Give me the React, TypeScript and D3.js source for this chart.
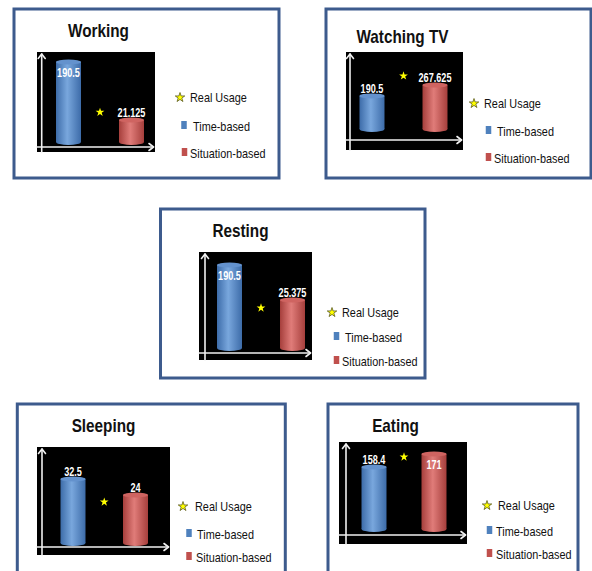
import React from "react";
import * as d3 from "d3";

const panelTitles = ["Working", "Watching TV", "Resting", "Sleeping", "Eating"];
const timeBasedValues = [190.5, 190.5, 190.5, 32.5, 158.4];
const situationBasedValues = [21.125, 267.625, 25.375, 24, 171];
// apparent heights on each panel's own (unlabelled) axis: 0 = baseline, 100 = top of plot
const timeBasedLevels = [89, 43, 86.5, 66.7, 71.3];
const situationBasedLevels = [24.4, 57, 50, 50, 86.2];
const realUsageLevels = [33, 69, 41.7, 42.7, 82.8];
const legendLabels = ["Real Usage", "Time-based", "Situation-based"];
const seriesKeys = ["time", "real", "situation"];

type Layout = {
  box: [number, number, number, number];
  plot: [number, number, number, number];
  axisX: number;
  axisY: number;
  base: number;
  xs: [number, number];
  title: [number, number];
  inside: [boolean, boolean];
  mx: number[];
  tx: number[];
  ty: number[];
};

const layouts: Layout[] = [
  { box: [14, 9, 265, 169], plot: [37, 52, 155, 152], axisX: 41.7, axisY: 147, base: 142, xs: [68.5, 131.5], title: [98.5, 37], inside: [true, false], mx: [180, 184, 184.5], tx: [190, 193, 190], ty: [97, 126, 153] },
  { box: [326, 9, 265, 169], plot: [346, 52, 463, 150], axisX: 350, axisY: 140, base: 129, xs: [372, 435], title: [402.5, 43], inside: [false, false], mx: [474, 488.5, 488.5], tx: [484, 497, 494], ty: [103, 131, 158] },
  { box: [160.5, 209, 264.5, 169], plot: [199, 252, 312, 360], axisX: 205, axisY: 353, base: 348, xs: [229.5, 292.5], title: [240.5, 237], inside: [true, false], mx: [332, 336.5, 336.5], tx: [342, 345, 342], ty: [312, 337, 361] },
  { box: [17.3, 404, 268, 190], plot: [37, 447, 170, 555], axisX: 42, axisY: 547, base: 543, xs: [73, 135.5], title: [103.5, 432], inside: [false, false], mx: [183, 189, 189], tx: [195, 197, 196], ty: [506, 534, 557] },
  { box: [328, 404, 250, 190], plot: [339, 442, 467, 544], axisX: 346, axisY: 535, base: 529, xs: [374, 434], title: [395.5, 432], inside: [false, true], mx: [487, 489.5, 489.5], tx: [498, 496, 496], ty: [505, 531, 554] },
];

const BLUE = { edge: "#3d6ca9", mid: "#79a7dd", top: "#6492cd" };
const RED = { edge: "#a63f3c", mid: "#e07c79", top: "#cf6461" };
const FONT = "'Liberation Sans', Arial, sans-serif";

function Cylinder({ cx, top, base, gid, col }: { cx: number; top: number; base: number; gid: string; col: any }) {
  const w = 25;
  return (
    <g>
      <ellipse cx={cx} cy={base} rx={w / 2} ry={3} fill={`url(#${gid})`} />
      <rect x={cx - w / 2} y={top} width={w} height={base - top} fill={`url(#${gid})`} />
      <ellipse cx={cx} cy={top} rx={w / 2} ry={2.5} fill={col.top} />
    </g>
  );
}

function Panel({ i }: { i: number }) {
  const L = layouts[i];
  const [px0, py0, px1, py1] = L.plot;
  const y = d3.scaleLinear().domain([0, 100]).range([L.base, py0]);
  const x = d3.scalePoint<string>().domain(seriesKeys).range(L.xs);
  const star = d3.symbol().type(d3.symbolStar);
  const bars = [
    { key: "time", level: timeBasedLevels[i], value: timeBasedValues[i], col: BLUE, gid: "gb", inside: L.inside[0] },
    { key: "situation", level: situationBasedLevels[i], value: situationBasedValues[i], col: RED, gid: "gr", inside: L.inside[1] },
  ];
  const fmt = (v: number) => String(v);
  return (
    <g>
      <rect x={L.box[0]} y={L.box[1]} width={L.box[2]} height={L.box[3]} fill="#ffffff" stroke="#3d5b8d" strokeWidth={3} />
      <text transform={`translate(${L.title[0]},${L.title[1]}) scale(0.85,1)`} textAnchor="middle" fontFamily={FONT} fontWeight="bold" fontSize={18} fill="#111">
        {panelTitles[i]}
      </text>
      <rect x={px0} y={py0} width={px1 - px0} height={py1 - py0} fill="#000" />
      {bars.map((b) => {
        const cx = x(b.key) as number;
        const top = y(b.level);
        const ly = b.inside ? top + 15 : top - 3;
        return (
          <g key={b.key}>
            <Cylinder cx={cx} top={top} base={L.base} gid={b.gid} col={b.col} />
            <text transform={`translate(${cx},${ly}) scale(0.76,1)`} textAnchor="middle" fontFamily={FONT} fontWeight="bold" fontSize={12} fill="#ffffff">
              {fmt(b.value)}
            </text>
          </g>
        );
      })}
      <path d={star.size(24)() as string} transform={`translate(${x("real")},${y(realUsageLevels[i])})`} fill="#ffff00" />
      {/* axes */}
      <g stroke="#f0f0f0" strokeWidth={1.6} fill="none" strokeLinecap="round" strokeLinejoin="round">
        <line x1={L.axisX} y1={py1} x2={L.axisX} y2={py0 + 2} />
        <polyline points={`${L.axisX - 3.5},${py0 + 6.5} ${L.axisX},${py0 + 2} ${L.axisX + 3.5},${py0 + 6.5}`} />
        <line x1={px0} y1={L.axisY} x2={px1 - 1.5} y2={L.axisY} />
        <polyline points={`${px1 - 6},${L.axisY - 3.5} ${px1 - 1.5},${L.axisY} ${px1 - 6},${L.axisY + 3.5}`} />
      </g>
      {/* legend */}
      <path d={star.size(28)() as string} transform={`translate(${L.mx[0]},${L.ty[0] + 0.5})`} fill="#ffff00" stroke="#5a5a20" strokeWidth={0.8} />
      <rect x={L.mx[1] - 2.75} y={L.ty[1] - 5} width={5.5} height={8} fill="#4f81bd" />
      <rect x={L.mx[2] - 2.75} y={L.ty[2] - 5} width={5.5} height={8} fill="#c0504d" />
      {legendLabels.map((t, k) => (
        <text key={t} transform={`translate(${L.tx[k]},${L.ty[k] + 4.5}) scale(0.87,1)`} fontFamily={FONT} fontSize={12.5} fill="#111">
          {t}
        </text>
      ))}
    </g>
  );
}

export default function App() {
  return (
    <svg width={592} height={571} style={{ position: "absolute", left: 0, top: 0, background: "#fff" }}>
      <defs>
        <linearGradient id="gb" x1="0" x2="1" y1="0" y2="0">
          <stop offset="0" stopColor={BLUE.edge} />
          <stop offset="0.45" stopColor={BLUE.mid} />
          <stop offset="1" stopColor={BLUE.edge} />
        </linearGradient>
        <linearGradient id="gr" x1="0" x2="1" y1="0" y2="0">
          <stop offset="0" stopColor={RED.edge} />
          <stop offset="0.45" stopColor={RED.mid} />
          <stop offset="1" stopColor={RED.edge} />
        </linearGradient>
      </defs>
      <rect width={592} height={571} fill="#fff" />
      {panelTitles.map((_, i) => (
        <Panel key={i} i={i} />
      ))}
    </svg>
  );
}
